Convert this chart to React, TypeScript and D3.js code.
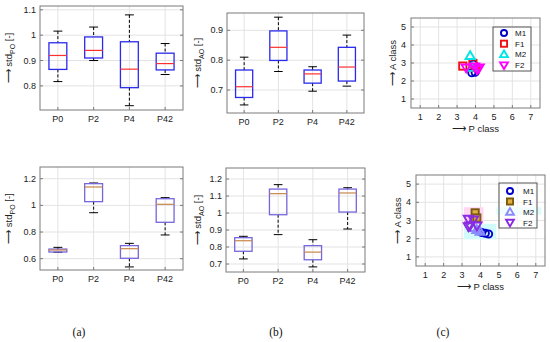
import React from 'react';
import * as d3 from 'd3';

const groups = ['P0', 'P2', 'P4', 'P42'];

// five-number summaries per group: [low whisker, q1, median, q3, high whisker]
const stdPOTop = [
  [0.817, 0.865, 0.92, 0.97, 1.016],
  [0.9, 0.91, 0.94, 0.993, 1.032],
  [0.722, 0.793, 0.866, 0.974, 1.08],
  [0.845, 0.863, 0.888, 0.929, 0.967],
];
const stdAOTop = [
  [0.65, 0.675, 0.711, 0.767, 0.81],
  [0.762, 0.799, 0.843, 0.898, 0.944],
  [0.696, 0.723, 0.754, 0.767, 0.778],
  [0.713, 0.73, 0.777, 0.843, 0.884],
];
const stdPOBottom = [
  [0.648, 0.65, 0.665, 0.672, 0.685],
  [0.945, 1.028, 1.138, 1.163, 1.168],
  [0.538, 0.603, 0.675, 0.698, 0.715],
  [0.778, 0.873, 1.008, 1.05, 1.058],
];
const stdAOBottom = [
  [0.73, 0.775, 0.837, 0.855, 0.863],
  [0.873, 0.99, 1.114, 1.141, 1.167],
  [0.683, 0.725, 0.77, 0.808, 0.843],
  [0.906, 1.006, 1.118, 1.141, 1.149],
];

const classes = ['M1', 'F1', 'M2', 'F2'];
// [P class, A class]
const m1Top = [[3.89, 2.93], [3.8, 2.46], [3.98, 2.49]];
const f1Top = [[3.31, 2.83], [3.86, 2.98], [4.0, 2.75]];
const m2Top = [[3.71, 3.4], [3.8, 2.74]];
const f2Top = [[3.49, 2.74], [4.1, 2.64], [4.2, 2.74], [3.95, 2.8]];

const m1Bottom = [[4.07, 2.34], [4.26, 2.3], [4.44, 2.26]];
const f1Bottom = [[3.71, 3.42], [3.8, 3.14]];
const m2Bottom = [[3.8, 2.49], [3.98, 2.39], [3.62, 2.6]];
const f2Bottom = [[3.34, 3.08], [3.62, 3.04], [3.43, 2.71], [3.8, 2.71], [3.34, 2.67]];
// shaded ranges [x0, x1, y0, y1]
const rangesBottom = [
  [3.1, 4.16, 2.82, 3.73],
  [3.1, 4.86, 1.97, 2.82],
  [4.86, 7.3, 3.32, 3.73],
];

const font = '"Liberation Sans", Arial, sans-serif';
const gridColor = '#e3e3e3';
const axisColor = '#7a7a7a';
const arrow = '\u27f6';

const YLabel = ({ x, y, main, sub }) => (
  <text transform={`translate(${x},${y}) rotate(-90)`} textAnchor="middle" fontFamily={font} fontSize={9.5} fill="#222">
    {arrow} {main}
    {sub ? <tspan fontSize={7} dy={3}>{sub}</tspan> : null}
    {sub ? <tspan dy={-3}> [-]</tspan> : null}
  </text>
);

const BoxPanel = (props) => {
  const { x0, x1, y0, y1, domain, ticks, stats, sub, labelX, boxColor, medColor } = props;
  const x = d3.scaleLinear().domain([0.5, 4.5]).range([x0, x1]);
  const y = d3.scaleLinear().domain(domain).range([y1, y0]);
  const bw = 0.5 * (x(1) - x(0));
  const cw = 0.25 * (x(1) - x(0));
  return (
    <g>
      <rect x={x0} y={y0} width={x1 - x0} height={y1 - y0} fill="#fff" />
      {ticks.map(t => <line key={'gy' + t} x1={x0} x2={x1} y1={y(t)} y2={y(t)} stroke={gridColor} />)}
      {groups.map((g, i) => <line key={'gx' + g} x1={x(i + 1)} x2={x(i + 1)} y1={y0} y2={y1} stroke={gridColor} />)}
      {stats.map((s, i) => {
        const cx = x(i + 1);
        const [lo, q1, med, q3, hi] = s;
        return (
          <g key={i}>
            <line x1={cx} x2={cx} y1={y(hi)} y2={y(q3)} stroke="#000" strokeDasharray="3,2" />
            <line x1={cx} x2={cx} y1={y(q1)} y2={y(lo)} stroke="#000" strokeDasharray="3,2" />
            <line x1={cx - cw / 2} x2={cx + cw / 2} y1={y(hi)} y2={y(hi)} stroke="#000" />
            <line x1={cx - cw / 2} x2={cx + cw / 2} y1={y(lo)} y2={y(lo)} stroke="#000" />
            <rect x={cx - bw / 2} y={y(q3)} width={bw} height={y(q1) - y(q3)} fill="none" stroke={boxColor} strokeWidth={1.3} />
            <line x1={cx - bw / 2} x2={cx + bw / 2} y1={y(med)} y2={y(med)} stroke={medColor} strokeWidth={1.2} />
          </g>
        );
      })}
      <rect x={x0} y={y0} width={x1 - x0} height={y1 - y0} fill="none" stroke={axisColor} />
      {ticks.map(t => (
        <g key={'t' + t}>
          <line x1={x0} x2={x0 + 3} y1={y(t)} y2={y(t)} stroke={axisColor} />
          <line x1={x1} x2={x1 - 3} y1={y(t)} y2={y(t)} stroke={axisColor} />
          <text x={x0 - 4} y={y(t) + 3} textAnchor="end" fontFamily={font} fontSize={9} fill="#222">{d3.format('~g')(t)}</text>
        </g>
      ))}
      {groups.map((g, i) => (
        <g key={'xt' + g}>
          <line x1={x(i + 1)} x2={x(i + 1)} y1={y1} y2={y1 - 3} stroke={axisColor} />
          <text x={x(i + 1)} y={y1 + 12} textAnchor="middle" fontFamily={font} fontSize={9} fill="#222">{g}</text>
        </g>
      ))}
      <YLabel x={labelX} y={(y0 + y1) / 2} main="std" sub={sub} />
    </g>
  );
};

const Marker = ({ kind, cx, cy, color, fill, size = 1 }) => {
  const r = 3.6 * size;
  if (kind === 'M1') return <circle cx={cx} cy={cy} r={r} fill="none" stroke={color} strokeWidth={1.9} />;
  if (kind === 'F1') return <rect x={cx - r} y={cy - r} width={2 * r} height={2 * r} fill={fill || 'none'} stroke={color} strokeWidth={1.9} />;
  const s = 4.6 * size;
  const pts = kind === 'M2'
    ? [[cx, cy - s], [cx - s, cy + s * 0.7], [cx + s, cy + s * 0.7]]
    : [[cx, cy + s], [cx - s, cy - s * 0.7], [cx + s, cy - s * 0.7]];
  return <polygon points={pts.map(p => p.join(',')).join(' ')} fill="none" stroke={color} strokeWidth={1.9} />;
};

const ScatterPanel = (props) => {
  const { x0, x1, y0, y1, series, colors, fills, ranges, rangeColors, legend, labelX } = props;
  const x = d3.scaleLinear().domain([0.5, 7.5]).range([x0, x1]);
  const y = d3.scaleLinear().domain([0.5, 5.5]).range([y1, y0]);
  const xt = d3.range(1, 8);
  const yt = d3.range(1, 6);
  return (
    <g>
      <rect x={x0} y={y0} width={x1 - x0} height={y1 - y0} fill="#fff" />
      {yt.map(t => <line key={'gy' + t} x1={x0} x2={x1} y1={y(t)} y2={y(t)} stroke={gridColor} />)}
      {xt.map(t => <line key={'gx' + t} x1={x(t)} x2={x(t)} y1={y0} y2={y1} stroke={gridColor} />)}
      {(ranges || []).map((r, i) => (
        <rect key={'r' + i} x={x(r[0])} y={y(r[3])} width={x(r[1]) - x(r[0])} height={y(r[2]) - y(r[3])} fill={rangeColors[i]} />
      ))}
      {series.map((pts, k) => pts.map((p, j) => (
        <Marker key={k + '-' + j} kind={classes[k]} cx={x(p[0])} cy={y(p[1])} color={colors[k]} fill={fills[k]} />
      )))}
      <rect x={legend.x} y={legend.y} width={legend.w} height={legend.h} fill="#fff" fillOpacity={0.6} stroke="#555" />
      {classes.map((c, k) => (
        <g key={'l' + c}>
          <Marker kind={c} size={0.85} cx={legend.x + legend.mx} cy={legend.y + legend.r0 + k * legend.dr} color={colors[k]} fill={fills[k]} />
          <text x={legend.x + legend.tx} y={legend.y + legend.r0 + k * legend.dr + 3} fontFamily={font} fontSize={8} fill="#111">{c}</text>
        </g>
      ))}
      <rect x={x0} y={y0} width={x1 - x0} height={y1 - y0} fill="none" stroke={axisColor} />
      {yt.map(t => (
        <g key={'yt' + t}>
          <line x1={x0} x2={x0 + 3} y1={y(t)} y2={y(t)} stroke={axisColor} />
          <text x={x0 - 5} y={y(t) + 3} textAnchor="end" fontFamily={font} fontSize={9} fill="#222">{t}</text>
        </g>
      ))}
      {xt.map(t => (
        <g key={'xt' + t}>
          <line x1={x(t)} x2={x(t)} y1={y1} y2={y1 - 3} stroke={axisColor} />
          <text x={x(t)} y={y1 + 12} textAnchor="middle" fontFamily={font} fontSize={9} fill="#222">{t}</text>
        </g>
      ))}
      <text x={(x0 + x1) / 2} y={y1 + 24} textAnchor="middle" fontFamily={font} fontSize={9.5} fill="#222">{arrow} P class</text>
      <text transform={`translate(${labelX},${(y0 + y1) / 2}) rotate(-90)`} textAnchor="middle" fontFamily={font} fontSize={9.5} fill="#222">{arrow} A class</text>
    </g>
  );
};

const App = () => (
  <svg width={550} height={342} style={{ position: 'absolute', left: 0, top: 0, background: '#fff' }}>
    <BoxPanel x0={40} x1={183} y0={6} y1={110} domain={[0.705, 1.115]} ticks={[0.8, 0.9, 1, 1.1]}
      stats={stdPOTop} sub="PO" labelX={12} boxColor="#2a2aee" medColor="#ff3030" />
    <BoxPanel x0={227} x1={364} y0={13} y1={113} domain={[0.623, 0.958]} ticks={[0.7, 0.8, 0.9]}
      stats={stdAOTop} sub="AO" labelX={201} boxColor="#2a2aee" medColor="#ff3030" />
    <ScatterPanel x0={411} x1={540} y0={18} y1={108} labelX={396}
      series={[m1Top, f1Top, m2Top, f2Top]}
      colors={['#0000c8', '#ee1111', '#00e5e5', '#ff00ff']} fills={[null, null, null, null]}
      legend={{ x: 493, y: 27, w: 38, h: 44, mx: 11, tx: 22, r0: 6, dr: 10.7 }} />
    <BoxPanel x0={40} x1={183} y0={167} y1={270} domain={[0.515, 1.288]} ticks={[0.6, 0.8, 1, 1.2]}
      stats={stdPOBottom} sub="PO" labelX={12} boxColor="#7566dd" medColor="#c8864a" />
    <BoxPanel x0={226} x1={365} y0={168} y1={272} domain={[0.653, 1.265]} ticks={[0.7, 0.8, 0.9, 1, 1.1, 1.2]}
      stats={stdAOBottom} sub="AO" labelX={201} boxColor="#7566dd" medColor="#c8864a" />
    <ScatterPanel x0={416} x1={545} y0={175} y1={266} labelX={401}
      series={[m1Bottom, f1Bottom, m2Bottom, f2Bottom]}
      colors={['#0000c8', '#7a5a10', '#8a8aff', '#8a2be2']} fills={[null, '#e0b040', null, null]}
      ranges={rangesBottom} rangeColors={['#ffd6f4', '#d2fbfb', '#dffbfb']}
      legend={{ x: 499, y: 183, w: 38, h: 45, mx: 11, tx: 24, r0: 8, dr: 10.5 }} />
    <text x={79} y={336} textAnchor="middle" fontFamily='"Liberation Serif", "DejaVu Serif", serif' fontSize={11.5} fill="#111">(a)</text>
    <text x={276} y={336} textAnchor="middle" fontFamily='"Liberation Serif", "DejaVu Serif", serif' fontSize={11.5} fill="#111">(b)</text>
    <text x={443} y={336} textAnchor="middle" fontFamily='"Liberation Serif", "DejaVu Serif", serif' fontSize={11.5} fill="#111">(c)</text>
  </svg>
);

export default App;
